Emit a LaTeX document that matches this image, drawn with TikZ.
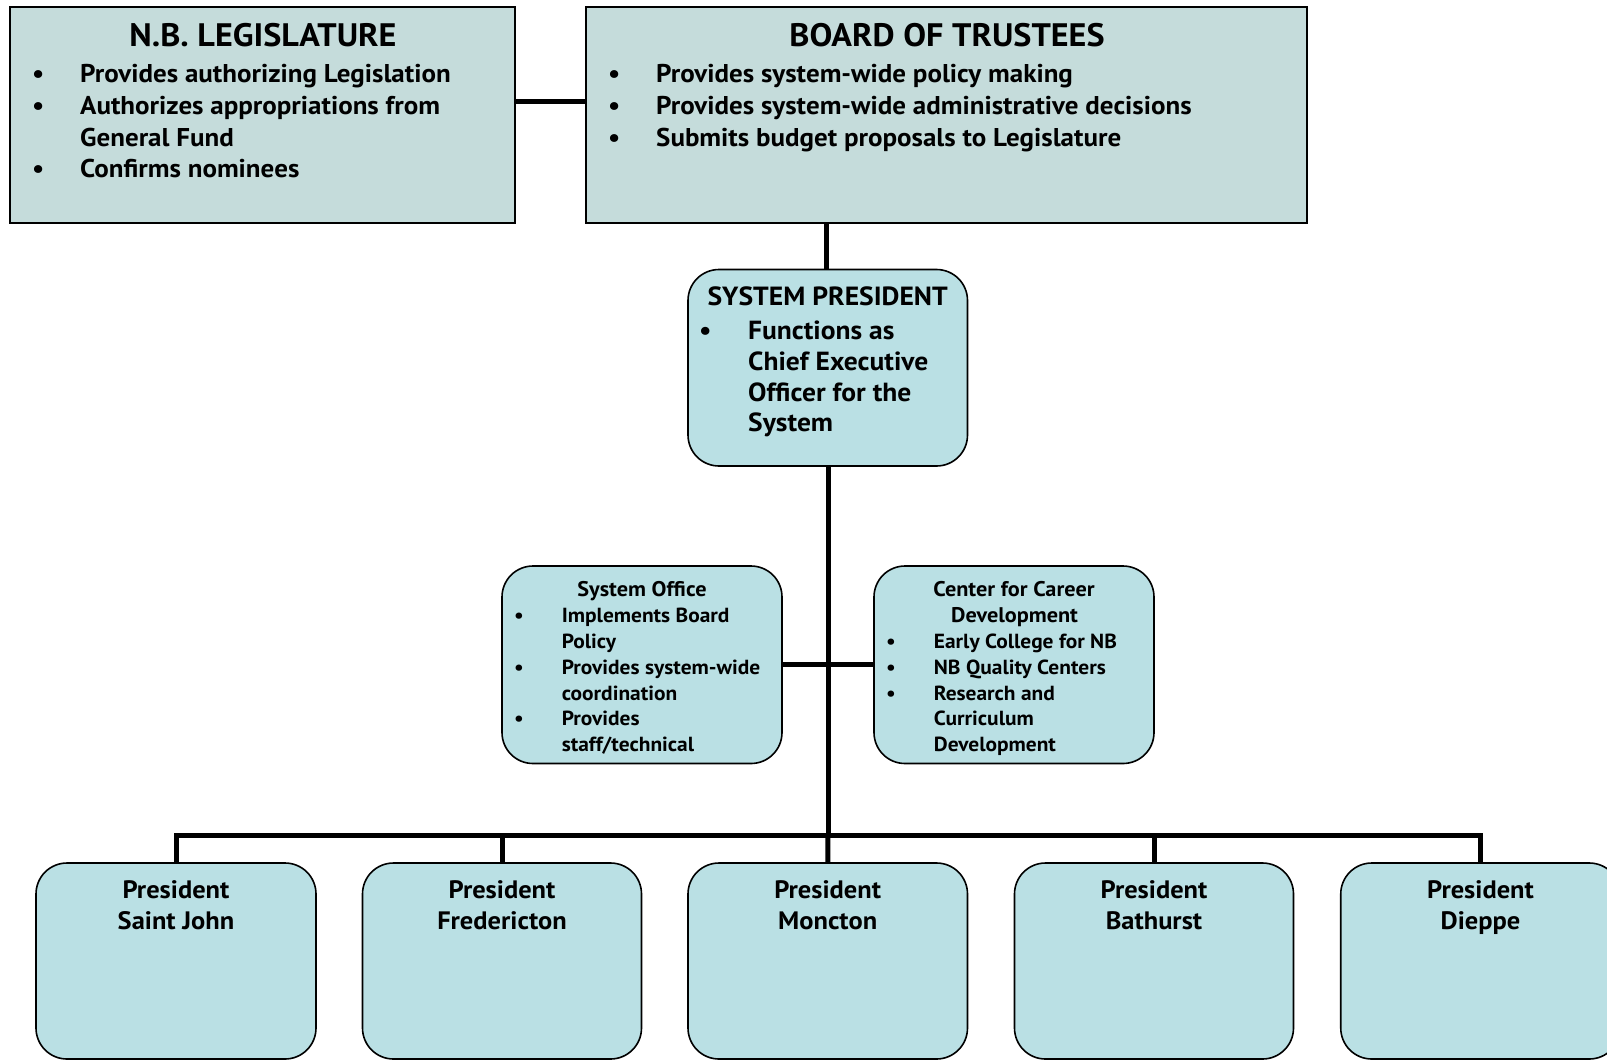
\documentclass[tikz,border=0pt]{standalone}
\usepackage{fontspec}
\setmainfont{PT Sans}[FakeStretch=1.05]
\definecolor{topfill}{RGB}{197,220,219}
\definecolor{lowfill}{RGB}{186,224,228}
\begin{document}
\begin{tikzpicture}[x=1pt,y=-1pt,
  topbox/.style={draw=black,line width=1.6pt,fill=topfill,inner sep=0pt},
  lowbox/.style={draw=black,line width=1.6pt,fill=lowfill,rounded corners=31pt,inner sep=0pt},
  conn/.style={line width=5pt},
  ttitle/.style={font=\bfseries\fontsize{32.5}{36}\selectfont,inner sep=0pt,anchor=base},
  tline/.style={font=\bfseries\fontsize{25.7}{30}\selectfont,inner sep=0pt,anchor=base west},
  sptitle/.style={font=\bfseries\fontsize{26.3}{30}\selectfont,inner sep=0pt,anchor=base},
  spline/.style={font=\bfseries\fontsize{26.2}{30}\selectfont,inner sep=0pt,anchor=base west},
  mtitle/.style={font=\bfseries\fontsize{21.2}{24}\selectfont,inner sep=0pt,anchor=base},
  mline/.style={font=\bfseries\fontsize{20.4}{24}\selectfont,inner sep=0pt,anchor=base west},
  ptext/.style={font=\bfseries\fontsize{25.2}{30}\selectfont,inner sep=0pt,anchor=base}
]
\useasboundingbox (0,0) rectangle (1607,1061);
\clip (0,0) rectangle (1607,1061);

% boxes
\node[topbox,minimum width=505pt,minimum height=216pt] (leg) at (262.5,115) {};
\node[topbox,minimum width=721pt,minimum height=216pt] (board) at (946.5,115) {};
\node[lowbox,minimum width=279.5pt,minimum height=196.5pt] (sp) at (827.75,367.75) {};
\node[lowbox,minimum width=280pt,minimum height=197.5pt] (so) at (642,664.75) {};
\node[lowbox,minimum width=280pt,minimum height=197.5pt] (ccd) at (1014,664.75) {};
\node[lowbox,minimum width=280pt,minimum height=196pt] (p1) at (176,961) {};
\node[lowbox,minimum width=279pt,minimum height=196pt] (p2) at (502,961) {};
\node[lowbox,minimum width=279.5pt,minimum height=196pt] (p3) at (827.75,961) {};
\node[lowbox,minimum width=279pt,minimum height=196pt] (p4) at (1154,961) {};
\node[lowbox,minimum width=279.5pt,minimum height=196pt] (p5) at (1480.5,961) {};

% connectors
\draw[conn] (leg.east |- 0,101.5) -- (board.west |- 0,101.5);
\draw[conn] (board.south -| 826,0) -- (sp.north -| 826,0);
\coordinate (bus) at (828,835);
\draw[conn] (sp.south -| 828,0) -- (bus);
\draw[conn] (so.east) -- (ccd.west);
\draw[conn] (p1.north) |- (bus) -| (p5.north);
\draw[conn] (p2.north) -- (p2.north |- bus);
\draw[conn] (p3.north) -- (bus);
\draw[conn] (p4.north) -- (p4.north |- bus);

% legislature text
\node[ttitle] (legt) at (263,46.7) {N.B. LEGISLATURE};
\node[tline] (legb1) at (32,82.7) {•};
\node[tline] (legl1) at (80,82.7) {Provides authorizing Legislation};
\node[tline] (legb2) at (32,114.4) {•};
\node[tline] (legl2) at (80,114.4) {Authorizes appropriations from};
\node[tline] (legl3) at (80,146) {General Fund};
\node[tline] (legb4) at (32,177.5) {•};
\node[tline] (legl4) at (80,177.5) {Confirms nominees};

% board text
\node[ttitle] (bt) at (947,46.7) {BOARD OF TRUSTEES};
\node[tline] (bb1) at (608,82.7) {•};
\node[tline] (bl1) at (656,82.7) {Provides system-wide policy making};
\node[tline] (bb2) at (608,114.4) {•};
\node[tline] (bl2) at (656,114.4) {Provides system-wide administrative decisions};
\node[tline] (bb3) at (608,146) {•};
\node[tline] (bl3) at (656,146) {Submits budget proposals to Legislature};

% system president text
\node[sptitle] (spt) at (827.7,305) {SYSTEM PRESIDENT};
\node[spline] (spb) at (699,339) {•};
\node[spline] (spl1) at (748,339) {Functions as};
\node[spline] (spl2) at (748,370.5) {Chief Executive};
\node[spline] (spl3) at (748,401) {Officer for the};
\node[spline] (spl4) at (748,431) {System};

% system office text
\node[mtitle] (sot) at (642,596.7) {System Office};
\node[mline] (sob1) at (514,622.7) {•};
\node[mline] (sol1) at (561.6,622.7) {Implements Board};
\node[mline] (sol2) at (561.6,648.4) {Policy};
\node[mline] (sob3) at (514,674.2) {•};
\node[mline] (sol3) at (561.6,674.2) {Provides system-wide};
\node[mline] (sol4) at (561.6,700) {coordination};
\node[mline] (sob5) at (514,725.8) {•};
\node[mline] (sol5) at (561.6,725.8) {Provides};
\node[mline] (sol6) at (561.6,751.6) {staff/technical};

% center text
\node[mtitle] (cct1) at (1014,596.7) {Center for Career};
\node[mtitle] (cct2) at (1014.6,622.5) {Development};
\node[mline] (ccb1) at (886,648.3) {•};
\node[mline] (ccl1) at (933.7,648.3) {Early College for NB};
\node[mline] (ccb2) at (886,674.1) {•};
\node[mline] (ccl2) at (933.7,674.1) {NB Quality Centers};
\node[mline] (ccb3) at (886,700) {•};
\node[mline] (ccl3) at (933.7,700) {Research and};
\node[mline] (ccl4) at (933.7,725.8) {Curriculum};
\node[mline] (ccl5) at (933.7,751.6) {Development};

% presidents
\node[ptext] (p1a) at (176,898.3) {President};
\node[ptext] (p1b) at (176,929.5) {Saint John};
\node[ptext] (p2a) at (502,898.3) {President};
\node[ptext] (p2b) at (502,929.5) {Fredericton};
\node[ptext] (p3a) at (827.7,898.3) {President};
\node[ptext] (p3b) at (827.7,929.5) {Moncton};
\node[ptext] (p4a) at (1154,898.3) {President};
\node[ptext] (p4b) at (1154,929.5) {Bathurst};
\node[ptext] (p5a) at (1480.5,898.3) {President};
\node[ptext] (p5b) at (1480.5,929.5) {Dieppe};
\end{tikzpicture}
\end{document}
